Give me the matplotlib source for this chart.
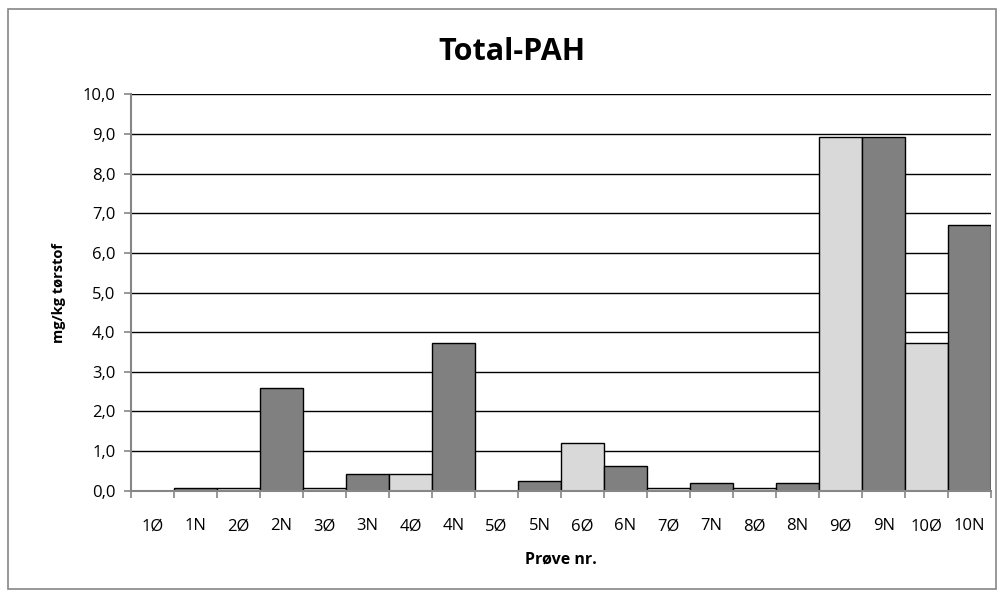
import matplotlib.pyplot as plt
import numpy as np
from matplotlib.patches import Rectangle

plt.rcParams['font.family'] = ['Open Sans', 'DejaVu Sans']

# samples: Ø = east side, N = north side
prover = ['1Ø', '1N', '2Ø', '2N', '3Ø', '3N', '4Ø', '4N', '5Ø', '5N',
          '6Ø', '6N', '7Ø', '7N', '8Ø', '8N', '9Ø', '9N', '10Ø', '10N']
pah = [0.0, 0.08, 0.07, 2.60, 0.06, 0.43, 0.43, 3.72, 0.0, 0.24,
       1.20, 0.62, 0.07, 0.19, 0.07, 0.19, 8.93, 8.93, 3.72, 6.70]

farver = ['#d9d9d9' if p.endswith('Ø') else '#808080' for p in prover]

fig = plt.figure(figsize=(10.03, 5.95), dpi=100)
ax = fig.add_axes([0.1303, 0.1753, 0.8580, 0.6662])

x = np.arange(len(prover))
ax.bar(x, pah, width=1.0, color=farver, edgecolor='black', linewidth=1.0, zorder=3)

ax.set_xlim(-0.5, len(prover) - 0.5)
ax.set_ylim(0, 10)
yt = np.arange(0, 10.1, 1.0)
ax.set_yticks(yt)
ax.set_yticklabels([f'{v:.1f}'.replace('.', ',') for v in yt], fontsize=12)
ax.yaxis.grid(True, color='black', linewidth=1.0, zorder=0)

# category labels in the middle, tick marks between categories
ax.set_xticks(x)
ax.set_xticklabels(prover, fontsize=12)
ax.tick_params(axis='x', which='major', length=0, pad=20)
ax.set_xticks(np.arange(-0.5, len(prover)), minor=True)
ax.tick_params(axis='x', which='minor', length=5, color='#868686', width=1.2)
ax.tick_params(axis='y', length=5, color='#868686', width=1.2, pad=6)

for s in ['top', 'right']:
    ax.spines[s].set_visible(False)
for s in ['left', 'bottom']:
    ax.spines[s].set_color('#868686')
    ax.spines[s].set_linewidth(1.5)
    ax.spines[s].set_zorder(4)

ax.set_ylabel('mg/kg tørstof', fontsize=10.5, fontweight='bold', labelpad=12)
ax.set_xlabel('Prøve nr.', fontsize=11.5, fontweight='bold', labelpad=12)
fig.text(0.5105, 0.913, 'Total-PAH', fontsize=22, fontweight='bold', ha='center', va='center')

# chart frame
fig.patches.append(Rectangle((8 / 1003, 6 / 595), 988 / 1003, 580 / 595, transform=fig.transFigure,
                             fill=False, edgecolor='#868686', linewidth=1.2))

fig.savefig('out.png', dpi=100)
